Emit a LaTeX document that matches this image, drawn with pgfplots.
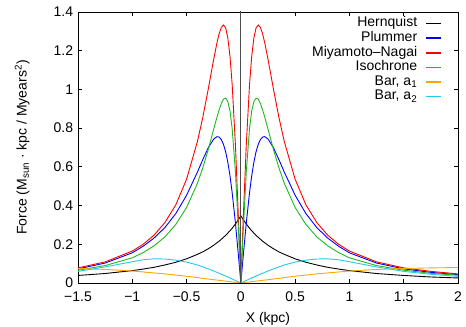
\documentclass[border=0pt]{standalone}
\usepackage{fontspec}
\setmainfont{Liberation Sans}
\usepackage{pgfplots}
\pgfplotsset{compat=1.18}
\usepackage{pgfplotstable}
\definecolor{cPlum}{RGB}{0,0,255}
\definecolor{cMN}{RGB}{255,0,0}
\definecolor{cIso}{RGB}{30,185,30}
\definecolor{cBarA}{RGB}{255,165,0}
\definecolor{cBarB}{RGB}{40,200,235}
\pgfplotstableread{
x hern plum mn iso barA barB
-1.5 0.039 0.073 0.078 0.066 0.075 0.060
-1.25 0.049 0.103 0.109 0.090 0.070 0.083
-1.0 0.064 0.156 0.165 0.130 0.062 0.110
-0.9 0.072 0.190 0.200 0.157 0.057 0.120
-0.8 0.081 0.232 0.247 0.192 0.052 0.125
-0.7 0.093 0.286 0.312 0.238 0.047 0.124
-0.6 0.107 0.358 0.403 0.302 0.041 0.118
-0.5 0.125 0.453 0.536 0.390 0.035 0.108
-0.4 0.148 0.573 0.731 0.515 0.028 0.093
-0.35 0.161 0.638 0.857 0.596 0.024 0.083
-0.3 0.177 0.699 1.003 0.690 0.0205 0.073
-0.25 0.195 0.744 1.156 0.795 0.017 0.062
-0.22 0.208 0.756 1.241 0.857 0.0152 0.055
-0.2 0.216 0.754 1.288 0.895 0.0138 0.050
-0.18 0.226 0.741 1.320 0.927 0.0124 0.046
-0.16 0.236 0.716 1.333 0.950 0.011 0.041
-0.14 0.246 0.678 1.318 0.955 0.0097 0.036
-0.12 0.258 0.624 1.266 0.937 0.0083 0.031
-0.1 0.270 0.554 1.171 0.888 0.007 0.026
-0.08 0.283 0.467 1.026 0.798 0.0055 0.021
-0.05 0.305 0.310 0.713 0.575 0.0035 0.013
-0.02 0.329 0.128 0.303 0.250 0.0014 0.005
0 0.347 0 0 0 0 0
0.02 0.329 0.128 0.303 0.250 0.0014 0.005
0.05 0.305 0.310 0.713 0.575 0.0035 0.013
0.08 0.283 0.467 1.026 0.798 0.0055 0.021
0.1 0.270 0.554 1.171 0.888 0.007 0.026
0.12 0.258 0.624 1.266 0.937 0.0083 0.031
0.14 0.246 0.678 1.318 0.955 0.0097 0.036
0.16 0.236 0.716 1.333 0.950 0.011 0.041
0.18 0.226 0.741 1.320 0.927 0.0124 0.046
0.2 0.216 0.754 1.288 0.895 0.0138 0.050
0.22 0.208 0.756 1.241 0.857 0.0152 0.055
0.25 0.195 0.744 1.156 0.795 0.017 0.062
0.3 0.177 0.699 1.003 0.690 0.0205 0.073
0.35 0.161 0.638 0.857 0.596 0.024 0.083
0.4 0.148 0.573 0.731 0.515 0.028 0.093
0.5 0.125 0.453 0.536 0.390 0.035 0.108
0.6 0.107 0.358 0.403 0.302 0.041 0.118
0.7 0.093 0.286 0.312 0.238 0.047 0.124
0.8 0.081 0.232 0.247 0.192 0.052 0.125
0.9 0.072 0.190 0.200 0.157 0.057 0.120
1.0 0.064 0.156 0.165 0.130 0.062 0.110
1.25 0.049 0.103 0.109 0.090 0.070 0.083
1.5 0.039 0.073 0.078 0.066 0.075 0.060
1.75 0.031 0.055 0.060 0.050 0.078 0.045
2.0 0.026 0.043 0.047 0.040 0.080 0.034
}\data
\begin{document}
\fontsize{14bp}{17bp}\selectfont
\begin{tikzpicture}
\begin{axis}[
  name=ax,
  scale only axis,
  width=380bp, height=271bp,
  xmin=-1.5, xmax=2, ymin=0, ymax=1.4,
  xtick={-1.5,-1,-0.5,0,0.5,1,1.5,2},
  xticklabels={−1.5,−1,−0.5,0,0.5,1,1.5,2},
  ytick={0,0.2,0.4,0.6,0.8,1,1.2,1.4},
  yticklabels={0,0.2,0.4,0.6,0.8,1,1.2,1.4},
  xticklabel style={yshift=-4bp},
  tick align=inside,
  major tick length=4bp,
  axis line style={line width=0.8bp},
  every tick/.style={line width=0.8bp, black},
  xlabel={X (kpc)},
  ylabel={Force (M\textsubscript{sun} · kpc / Myears\textsuperscript{2})},
  xlabel style={at={(axis description cs:0.5,-0.133)}, anchor=center, inner sep=0pt},
  ylabel style={at={(axis description cs:-0.147,0.5)}, anchor=center, inner sep=0pt},
  legend plot pos=right,
  legend cell align=right,
  legend image code/.code={\draw[#1, line width=1.6bp] (0bp,0.3bp) -- (15bp,0.3bp);},
  legend style={draw=none, fill=none, inner sep=0pt,
    at={(axis description cs:1,1)}, anchor=north east, xshift=-16bp, yshift=-4.5bp,
    column sep=8bp, row sep=0pt,
    nodes={inner sep=0pt, text height=10.3bp, text depth=4.3bp}},
  every axis plot/.append style={line width=0.9bp},
]
\addplot[black] table[x=x,y=hern] {\data};
\addlegendentry{Hernquist}
\addplot[cPlum] table[x=x,y=plum] {\data};
\addlegendentry{Plummer}
\addplot[cMN] table[x=x,y=mn] {\data};
\addlegendentry{Miyamoto--Nagai}
\addplot[cIso] table[x=x,y=iso] {\data};
\addlegendentry{Isochrone}
\addplot[cBarA] table[x=x,y=barA] {\data};
\addlegendentry{Bar, a\textsubscript{1}}
\addplot[cBarB] table[x=x,y=barB] {\data};
\addlegendentry{Bar, a\textsubscript{2}}
\addplot[black!70, forget plot] coordinates {(0,0) (0,1.5)};
\end{axis}
\pgfresetboundingbox
\path ([xshift=-78bp,yshift=-44bp]ax.south west) rectangle ([xshift=8bp,yshift=12bp]ax.north east);
\end{tikzpicture}
\end{document}
